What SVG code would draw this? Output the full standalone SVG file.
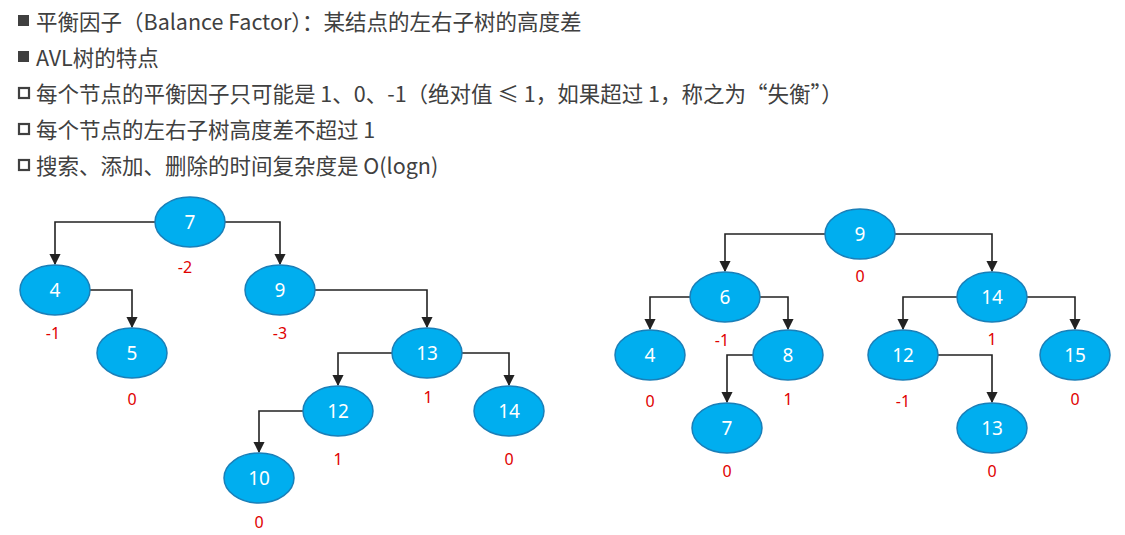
<svg xmlns="http://www.w3.org/2000/svg" width="1125" height="535" viewBox="0 0 1125 535">
<style>
.t{font-family:"Noto Sans CJK SC","Noto Sans",sans-serif;font-size:21.5px;fill:#404040}
.n ellipse{fill:#00AEEF;stroke:#1A7FB8;stroke-width:1.5}
.n text{font-family:"Noto Sans","Liberation Sans",sans-serif;font-size:19px;fill:#fff;text-anchor:middle}
.b{font-family:"Noto Sans","Liberation Sans",sans-serif;font-size:16px;fill:#E00000;text-anchor:middle}
.c path{fill:none;stroke:#222;stroke-width:1.6;marker-end:url(#a)}
</style>
<defs><marker id="a" viewBox="0 0 10 10" refX="9" refY="5" markerWidth="7" markerHeight="7" orient="auto"><path d="M0,0L10,5L0,10z" fill="#222"/></marker></defs>
<rect width="1125" height="535" fill="#fff"/>
<rect x="18" y="15" width="11" height="11" fill="#404040"/>
<text class="t" x="36" y="30">平衡因子（Balance Factor）：某结点的左右子树的高度差</text>
<rect x="18" y="51" width="11" height="11" fill="#404040"/>
<text class="t" x="36" y="66">AVL树的特点</text>
<rect x="19" y="88" width="10" height="10" fill="none" stroke="#404040" stroke-width="2.2"/>
<text class="t" x="36" y="102">每个节点的平衡因子只可能是 1、0、-1（绝对值 ≤ 1，如果超过 1，称之为“失衡”）</text>
<rect x="19" y="124" width="10" height="10" fill="none" stroke="#404040" stroke-width="2.2"/>
<text class="t" x="36" y="138">每个节点的左右子树高度差不超过 1</text>
<rect x="19" y="160" width="10" height="10" fill="none" stroke="#404040" stroke-width="2.2"/>
<text class="t" x="36" y="174">搜索、添加、删除的时间复杂度是 O(logn)</text>
<g class="c" id="connectors">
<path d="M155,222H55V264"/><path d="M225,222H280V264"/><path d="M90,290H132V327"/><path d="M315,290H427V327"/>
<path d="M392,353H338V385"/><path d="M462,353H509V385"/><path d="M303,411H259V452"/>
<path d="M825,234H725V271"/><path d="M895,234H992V271"/><path d="M690,297H650V329"/><path d="M760,297H788V329"/>
<path d="M753,355H727V402"/><path d="M957,297H903V329"/><path d="M1027,297H1075V329"/><path d="M938,355H992V402"/>
</g>
<g class="n" id="L7"><ellipse cx="190" cy="222" rx="35" ry="25"/><text x="190" y="229">7</text></g>
<g class="n" id="L4"><ellipse cx="55" cy="290" rx="35" ry="25"/><text x="55" y="297">4</text></g>
<g class="n" id="L9"><ellipse cx="280" cy="290" rx="35" ry="25"/><text x="280" y="297">9</text></g>
<g class="n" id="L5"><ellipse cx="132" cy="353" rx="35" ry="25"/><text x="132" y="360">5</text></g>
<g class="n" id="L13"><ellipse cx="427" cy="353" rx="35" ry="25"/><text x="427" y="360">13</text></g>
<g class="n" id="L12"><ellipse cx="338" cy="411" rx="35" ry="25"/><text x="338" y="418">12</text></g>
<g class="n" id="L14"><ellipse cx="509" cy="411" rx="35" ry="25"/><text x="509" y="418">14</text></g>
<g class="n" id="L10"><ellipse cx="259" cy="478" rx="35" ry="25"/><text x="259" y="485">10</text></g>
<g class="n" id="R9"><ellipse cx="860" cy="234" rx="35" ry="25"/><text x="860" y="241">9</text></g>
<g class="n" id="R6"><ellipse cx="725" cy="297" rx="35" ry="25"/><text x="725" y="304">6</text></g>
<g class="n" id="R14"><ellipse cx="992" cy="297" rx="35" ry="25"/><text x="992" y="304">14</text></g>
<g class="n" id="R4"><ellipse cx="650" cy="355" rx="35" ry="25"/><text x="650" y="362">4</text></g>
<g class="n" id="R8"><ellipse cx="788" cy="355" rx="35" ry="25"/><text x="788" y="362">8</text></g>
<g class="n" id="R12"><ellipse cx="903" cy="355" rx="35" ry="25"/><text x="903" y="362">12</text></g>
<g class="n" id="R15"><ellipse cx="1075" cy="355" rx="35" ry="25"/><text x="1075" y="362">15</text></g>
<g class="n" id="R7"><ellipse cx="727" cy="428" rx="35" ry="25"/><text x="727" y="435">7</text></g>
<g class="n" id="R13"><ellipse cx="992" cy="428" rx="35" ry="25"/><text x="992" y="435">13</text></g>
<g id="factors">
<text class="b" x="185" y="273">-2</text><text class="b" x="53" y="339">-1</text><text class="b" x="280" y="339">-3</text>
<text class="b" x="132" y="405">0</text><text class="b" x="428" y="403">1</text><text class="b" x="338" y="465">1</text>
<text class="b" x="509" y="465">0</text><text class="b" x="259" y="528">0</text>
<text class="b" x="860" y="282">0</text><text class="b" x="722" y="346">-1</text><text class="b" x="992" y="345">1</text>
<text class="b" x="650" y="407">0</text><text class="b" x="788" y="405">1</text><text class="b" x="903" y="407">-1</text>
<text class="b" x="1075" y="405">0</text><text class="b" x="727" y="477">0</text><text class="b" x="992" y="477">0</text>
</g>
</svg>
